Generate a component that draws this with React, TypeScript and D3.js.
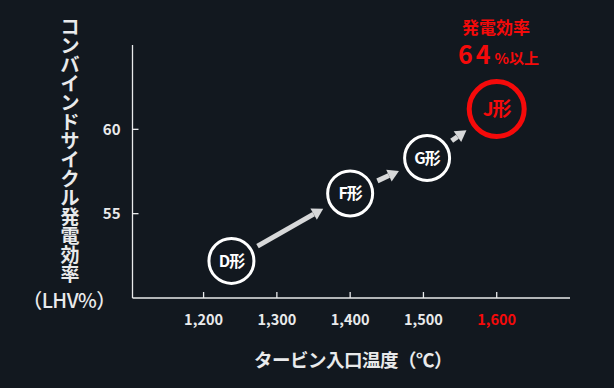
import React, { useEffect, useRef } from 'react';
import * as d3 from 'd3';

const W = 614;
const H = 388;

// turbine generations: inlet temperature (℃) and combined cycle efficiency (%)
const models = ['D形', 'F形', 'G形', 'J形'];
const temps = [1238, 1400, 1505, 1600];
const effs = [52.2, 56.2, 58.3, 61.2];

const xTicks = [1200, 1300, 1400, 1500, 1600];
const yTicks = [55, 60];

const yTitle = 'コンバインドサイクル発電効率';
const yUnit = '（LHV%）';
const xTitle = 'タービン入口温度（℃）';

const BG = '#12181f';
const FG = '#e9eaeb';
const RED = '#f50a0a';
const FONT = '"Noto Sans CJK JP", "Noto Sans", sans-serif';

const App = () => {
  const svgRef = useRef<SVGSVGElement>(null);

  useEffect(() => {
    document.body.style.margin = '0';
    document.body.style.background = BG;

    const svg = d3.select(svgRef.current);
    svg.selectAll('*').remove();
    svg.attr('width', W).attr('height', H);

    svg.append('rect').attr('width', W).attr('height', H).attr('fill', BG);

    const x = d3.scaleLinear().domain([1103, 1700]).range([132.5, 570]);
    const y = d3.scaleLinear().domain([50, 65]).range([298, 45]);

    const g = svg.append('g').style('font-family', FONT);

    // axes lines
    g.append('line')
      .attr('x1', x(1103)).attr('x2', x(1103))
      .attr('y1', y(65)).attr('y2', y(50))
      .attr('stroke', FG).attr('stroke-width', 1.3);
    g.append('line')
      .attr('x1', x(1103)).attr('x2', x(1700))
      .attr('y1', y(50)).attr('y2', y(50))
      .attr('stroke', FG).attr('stroke-width', 1.3);

    // y ticks
    yTicks.forEach(t => {
      g.append('line')
        .attr('x1', x(1103)).attr('x2', x(1103) + 6)
        .attr('y1', y(t)).attr('y2', y(t))
        .attr('stroke', FG).attr('stroke-width', 1.3);
      g.append('text')
        .attr('x', 120.5).attr('y', y(t))
        .attr('dy', '0.36em')
        .attr('text-anchor', 'end')
        .attr('fill', FG)
        .style('font-size', '15px').style('font-weight', 700)
        .text(t);
    });

    // x ticks
    xTicks.forEach(t => {
      g.append('line')
        .attr('x1', x(t)).attr('x2', x(t))
        .attr('y1', y(50)).attr('y2', y(50) - 6)
        .attr('stroke', FG).attr('stroke-width', 1.3);
      g.append('text')
        .attr('x', x(t)).attr('y', 324.5)
        .attr('text-anchor', 'middle')
        .attr('fill', t === 1600 ? RED : FG)
        .style('font-size', '14.5px').style('font-weight', 700)
        .text(d3.format(',')(t));
    });

    // axis titles
    g.append('text')
      .attr('x', 353).attr('y', 367)
      .attr('text-anchor', 'middle')
      .attr('fill', FG)
      .style('font-size', '18.5px').style('font-weight', 700)
      .style('letter-spacing', '-0.5px')
      .text(xTitle);

    // vertical title, one glyph per line
    yTitle.split('').forEach((c, i) => {
      g.append('text')
        .attr('x', 70).attr('y', 34 + i * 19)
        .attr('text-anchor', 'middle')
        .attr('fill', FG)
        .style('font-size', '19px').style('font-weight', 700)
        .text(c);
    });
    g.append('text')
      .attr('x', 69).attr('y', 308)
      .attr('text-anchor', 'middle')
      .attr('fill', FG)
      .style('font-size', '20px').style('font-weight', 500)
      .style('letter-spacing', '-0.5px')
      .text(yUnit);

    // arrows between generations
    const radius = (i: number) => (i === 3 ? 30 : 24);
    for (let i = 0; i < models.length - 1; i++) {
      const x0 = x(temps[i]), y0 = y(effs[i]);
      const x1 = x(temps[i + 1]), y1 = y(effs[i + 1]);
      const dx = x1 - x0, dy = y1 - y0;
      const len = Math.hypot(dx, dy);
      const ux = dx / len, uy = dy / len;
      const sx = x0 + ux * 30, sy = y0 + uy * 30;
      const ex = x1 - ux * (radius(i + 1) + 7), ey = y1 - uy * (radius(i + 1) + 7);
      const head = 11;
      const hw = 6.5;
      const bx = ex - ux * head, by = ey - uy * head;
      g.append('line')
        .attr('x1', sx).attr('y1', sy)
        .attr('x2', bx).attr('y2', by)
        .attr('stroke', '#d7d8d9').attr('stroke-width', 5);
      g.append('path')
        .attr('d', `M${ex},${ey}L${bx - uy * hw},${by + ux * hw}L${bx + uy * hw},${by - ux * hw}Z`)
        .attr('fill', '#d7d8d9');
    }

    // generation circles
    models.forEach((m, i) => {
      const isJ = i === 3;
      const cx = x(temps[i]), cy = y(effs[i]);
      g.append('circle')
        .attr('cx', cx).attr('cy', cy)
        .attr('r', isJ ? 27.5 : 22.5)
        .attr('fill', BG)
        .attr('stroke', isJ ? RED : '#ffffff')
        .attr('stroke-width', isJ ? 5 : 3);
      g.append('text')
        .attr('x', cx).attr('y', cy)
        .attr('dy', '0.36em')
        .attr('text-anchor', 'middle')
        .attr('fill', isJ ? RED : '#ffffff')
        .style('font-size', isJ ? '19px' : '16px').style('font-weight', 700)
        .style('letter-spacing', '-1px')
        .text(m);
    });

    // callout
    g.append('text')
      .attr('x', 496).attr('y', 34)
      .attr('text-anchor', 'middle')
      .attr('fill', RED)
      .style('font-size', '17px').style('font-weight', 700)
      .text('発電効率');
    const call = g.append('text')
      .attr('x', 458).attr('y', 64)
      .attr('fill', RED)
      .style('font-weight', 700);
    call.append('tspan').style('font-size', '25px').style('letter-spacing', '3px').text('64');
    call.append('tspan').style('font-size', '15px').attr('dx', 1).text('%');
    call.append('tspan').style('font-size', '15px').text('以上');
  }, []);

  return <svg ref={svgRef} style={{ display: 'block' }} />;
};

export default App;
